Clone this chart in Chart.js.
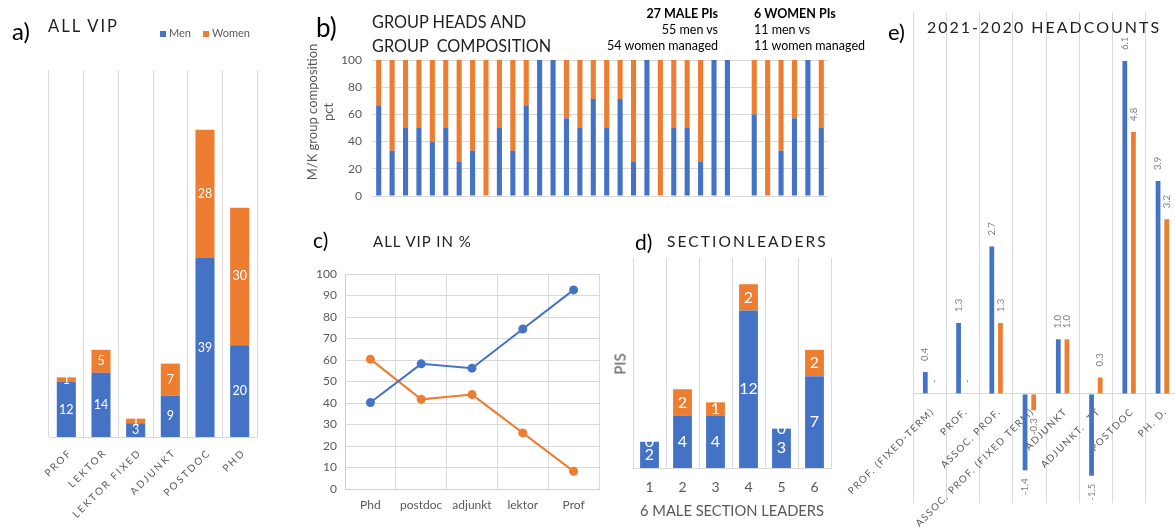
<!DOCTYPE html>
<html><head><meta charset="utf-8">
<script src="https://cdn.jsdelivr.net/npm/chart.js@4.4.0/dist/chart.umd.min.js"></script>
<style>
html,body{margin:0;padding:0;width:1175px;height:527px;overflow:hidden;background:#fff;font-family:Lato,sans-serif;}
canvas{position:absolute;}
.t{position:absolute;white-space:nowrap;line-height:1;color:#222;}
.g{color:#595959;}
.sq{position:absolute;width:6px;height:6px;}
</style></head><body>

<canvas id="ca" width="300" height="527" style="left:0;top:0"></canvas>
<canvas id="cb" width="580" height="220" style="left:300px;top:0"></canvas>
<canvas id="cc" width="320" height="307" style="left:290px;top:220px"></canvas>
<canvas id="cd" width="280" height="307" style="left:600px;top:220px"></canvas>
<canvas id="ce" width="350" height="527" style="left:830px;top:0"></canvas>

<!-- panel a texts -->
<div class="t" style="left:12px;top:18.7px;font-size:24px;color:#000">a)</div>
<div class="t" style="left:48px;top:18.4px;font-size:16.5px;letter-spacing:2px">ALL VIP</div>
<div class="sq" style="left:160px;top:31px;background:#4472C4"></div>
<div class="t g" style="left:169px;top:27.2px;font-size:11px">Men</div>
<div class="sq" style="left:203px;top:31px;background:#ED7D31"></div>
<div class="t g" style="left:212px;top:27.2px;font-size:11px">Women</div>

<!-- panel b texts -->
<div class="t" style="left:316px;top:14px;font-size:26px;color:#000">b)</div>
<div class="t" style="left:372px;top:14.1px;font-size:16.3px">GROUP HEADS AND</div>
<div class="t" style="left:372px;top:37.5px;font-size:16.3px;white-space:pre">GROUP  COMPOSITION</div>
<div class="t" style="right:457px;top:8.2px;font-size:12.5px;font-weight:bold;text-align:right;color:#000">27 MALE PIs</div>
<div class="t" style="right:457px;top:24.4px;font-size:12.5px;text-align:right;color:#000">55 men vs</div>
<div class="t" style="right:457px;top:39.9px;font-size:12.5px;text-align:right;color:#000">54 women managed</div>
<div class="t" style="left:754px;top:8.2px;font-size:12.5px;font-weight:bold;color:#000">6 WOMEN PIs</div>
<div class="t" style="left:754px;top:24.4px;font-size:12.5px;color:#000">11 men vs</div>
<div class="t" style="left:754px;top:39.9px;font-size:12.5px;color:#000">11 women managed</div>
<div class="t g" style="left:320px;top:112px;font-size:13px;line-height:16px;text-align:center;transform:translate(-50%,-50%) rotate(-90deg)">M/K group composition<br>pct</div>

<!-- panel c texts -->
<div class="t" style="left:313px;top:229px;font-size:21px;color:#000">c)</div>
<div class="t" style="left:373px;top:233.7px;font-size:15px;letter-spacing:1px">ALL VIP IN %</div>

<!-- panel d texts -->
<div class="t" style="left:635px;top:231.4px;font-size:21px;color:#000">d)</div>
<div class="t" style="left:667px;top:234.3px;font-size:15.5px;letter-spacing:2.1px">SECTIONLEADERS</div>
<div class="t g" style="left:620px;top:364px;font-size:15px;transform:translate(-50%,-50%) rotate(-90deg)">PIS</div>
<div class="t g" style="left:732px;top:503px;font-size:14.7px;transform:translateX(-50%)">6 MALE SECTION LEADERS</div>

<!-- panel e texts -->
<div class="t" style="left:888px;top:20.5px;font-size:22px;color:#000">e)</div>
<div class="t" style="left:927px;top:18.8px;font-size:16px;letter-spacing:2px">2021-2020 HEADCOUNTS</div>

<script>
// ---------- DATA ----------
const vipCategories = ['PROF', 'LEKTOR', 'LEKTOR FIXED', 'ADJUNKT', 'POSTDOC', 'PHD'];
const vipMen = [12, 14, 3, 9, 39, 20];
const vipWomen = [1, 5, 1, 7, 28, 30];

const groupLabels = ['M1','M2','M3','M4','M5','M6','M7','M8','M9','M10','M11','M12','M13','M14','M15','M16','M17','M18','M19','M20','M21','M22','M23','M24','M25','M26','M27','','W1','W2','W3','W4','W5','W6'];
const groupMenPct = [66.7,33.3,50,50,40,50,25,33.3,0,50,33.3,66.7,100,100,57.1,50,71.4,50,71.4,25,100,0,50,50,25,100,100,null,60,0,33.3,57.1,100,50];
const groupWomenPct = [33.3,66.7,50,50,60,50,75,66.7,100,50,66.7,33.3,0,0,42.9,50,28.6,50,28.6,75,0,100,50,50,75,0,0,null,40,100,66.7,42.9,0,50];
const groupPctTicks = [0, 20, 40, 60, 80, 100];

const pctCategories = ['Phd', 'postdoc', 'adjunkt', 'lektor', 'Prof'];
const pctMen = [40.2, 58.2, 56.2, 74.4, 92.6];
const pctWomen = [60.4, 41.7, 43.9, 26.1, 8.2];

const sectionLabels = ['1', '2', '3', '4', '5', '6'];
const sectionMen = [2, 4, 4, 12, 3, 7];
const sectionWomen = [0, 2, 1, 2, 0, 2];

const headCategories = ['PROF. (FIXED-TERM)', 'PROF.', 'ASSOC. PROF.', 'ASSOC. PROF. (FIXED TERM)', 'ADJUNKT', 'ADJUNKT.  TT', 'POSTDOC', 'PH. D.'];
const headMen = [0.4, 1.3, 2.7, -1.4, 1.0, -1.5, 6.1, 3.9];
const headWomen = [0, 0, 1.3, -0.3, 1.0, 0.3, 4.8, 3.2];

// ---------- STYLE ----------
const BLUE = '#4472C4', ORANGE = '#ED7D31', GRAY = '#595959', GRID = '#d9d9d9';
Chart.defaults.font.family = 'Lato';

const base = {
  responsive: false, animation: false, devicePixelRatio: 1,
  plugins: { legend: { display: false }, tooltip: { enabled: false } }
};

function stackLabels(size) {
  return { id: 'stackLabels', afterDatasetsDraw(chart) {
    const ctx = chart.ctx; ctx.save();
    ctx.fillStyle = '#fff'; ctx.font = size + 'px Lato';
    ctx.textAlign = 'center'; ctx.textBaseline = 'middle';
    chart.data.datasets.forEach((ds, di) => {
      chart.getDatasetMeta(di).data.forEach((el, i) => {
        const v = ds.data[i]; if (v == null) return;
        ctx.fillText(String(v), el.x, (el.y + el.base) / 2);
      });
    });
    ctx.restore();
  }};
}

function diagLabels(o) {
  const hook = o.before ? 'beforeDatasetsDraw' : 'afterDatasetsDraw';
  return { id: 'diag', [hook](chart) {
    const ctx = chart.ctx, xs = chart.scales.x;
    const y0 = o.zero ? chart.scales.y.getPixelForValue(0) : chart.chartArea.bottom;
    ctx.save();
    ctx.font = o.size + 'px Lato'; ctx.fillStyle = GRAY;
    ctx.letterSpacing = o.ls + 'px';
    ctx.textAlign = 'right'; ctx.textBaseline = 'middle';
    chart.data.labels.forEach((lab, i) => {
      const x = xs.getPixelForValue(i);
      ctx.save(); ctx.translate(x + o.dx, y0 + o.dy); ctx.rotate(-Math.PI / 4);
      ctx.fillText(lab, 0, 0); ctx.restore();
    });
    ctx.restore();
  }};
}

// ---------- a) ALL VIP ----------
new Chart(document.getElementById('ca'), {
  type: 'bar',
  data: { labels: vipCategories, datasets: [
    { label: 'Men', data: vipMen, backgroundColor: BLUE, barPercentage: 0.55, categoryPercentage: 1 },
    { label: 'Women', data: vipWomen, backgroundColor: ORANGE, barPercentage: 0.55, categoryPercentage: 1 }
  ]},
  options: { ...base,
    layout: { padding: { left: 49, right: 43, top: 70, bottom: 90 } },
    scales: {
      x: { stacked: true, ticks: { display: false }, grid: { color: GRID, drawTicks: false, offset: true }, border: { color: GRID } },
      y: { stacked: true, display: false, min: 0, max: 80 }
    }
  },
  plugins: [stackLabels(12.5), diagLabels({ size: 10, ls: 2, dx: 4, dy: 14 })]
});

// ---------- b) GROUP HEADS ----------
new Chart(document.getElementById('cb'), {
  type: 'bar',
  data: { labels: groupLabels, datasets: [
    { label: 'Men', data: groupMenPct, backgroundColor: BLUE, barPercentage: 0.38, categoryPercentage: 1 },
    { label: 'Women', data: groupWomenPct, backgroundColor: ORANGE, barPercentage: 0.38, categoryPercentage: 1 }
  ]},
  options: { ...base,
    layout: { padding: { left: 0, right: 52, top: 60, bottom: 16 } },
    scales: {
      x: { stacked: true, ticks: { display: false }, grid: { display: false }, border: { display: false } },
      y: { stacked: true, min: 0, max: 100,
        afterBuildTicks(s) { s.ticks = groupPctTicks.map(v => ({ value: v })); },
        afterFit(s) { s.width = 72; },
        ticks: { color: GRAY, font: { size: 12 }, padding: 10 },
        grid: { color: GRID, drawTicks: false }, border: { display: false } }
    }
  }
});

// ---------- c) ALL VIP IN % ----------
new Chart(document.getElementById('cc'), {
  type: 'line',
  data: { labels: pctCategories, datasets: [
    { label: 'Men', data: pctMen, borderColor: BLUE, backgroundColor: BLUE, borderWidth: 2, pointRadius: 4.5, pointBorderWidth: 0, tension: 0 },
    { label: 'Women', data: pctWomen, borderColor: ORANGE, backgroundColor: ORANGE, borderWidth: 2, pointRadius: 4.5, pointBorderWidth: 0, tension: 0 }
  ]},
  options: { ...base,
    layout: { padding: { left: 0, right: 11, top: 54, bottom: 0 } },
    scales: {
      x: { offset: true, afterFit(s) { s.height = 38; },
        ticks: { color: GRAY, font: { size: 12 }, padding: 9 },
        grid: { color: GRID, drawTicks: false, offset: true }, border: { color: '#cfcfcf' } },
      y: { min: 0, max: 100, afterFit(s) { s.width = 55; },
        ticks: { stepSize: 10, color: GRAY, font: { size: 12 }, padding: 8 },
        grid: { color: GRID, drawTicks: false }, border: { color: '#cfcfcf' } }
    }
  }
});

// ---------- d) SECTION LEADERS ----------
new Chart(document.getElementById('cd'), {
  type: 'bar',
  data: { labels: sectionLabels, datasets: [
    { label: 'Men', data: sectionMen, backgroundColor: BLUE, barPercentage: 0.57, categoryPercentage: 1 },
    { label: 'Women', data: sectionWomen, backgroundColor: ORANGE, barPercentage: 0.57, categoryPercentage: 1 }
  ]},
  options: { ...base,
    layout: { padding: { left: 33, right: 49, top: 38, bottom: 0 } },
    scales: {
      x: { stacked: true, afterFit(s) { s.height = 59; },
        ticks: { color: GRAY, font: { size: 14 }, padding: 11.5 },
        grid: { color: GRID, drawTicks: false, offset: true }, border: { color: GRID } },
      y: { stacked: true, display: false, min: 0, max: 16 }
    }
  },
  plugins: [stackLabels(16)]
});

// ---------- e) HEADCOUNTS ----------
const headValueLabels = { id: 'hv', afterDatasetsDraw(chart) {
  const ctx = chart.ctx; ctx.save();
  ctx.font = '9.5px Lato'; ctx.fillStyle = '#7f7f7f'; ctx.textBaseline = 'middle';
  chart.data.datasets.forEach((ds, di) => {
    chart.getDatasetMeta(di).data.forEach((el, i) => {
      const v = ds.data[i];
      const txt = v === 0 ? '-' : v.toFixed(1);
      ctx.save();
      if (v < 0) { ctx.translate(el.x, el.y + 8); ctx.rotate(-Math.PI / 2); ctx.textAlign = 'right'; }
      else { ctx.translate(el.x, el.y - 11); ctx.rotate(-Math.PI / 2); ctx.textAlign = 'left'; }
      ctx.fillText(txt, 0, 0);
      ctx.restore();
    });
  });
  ctx.restore();
}};

new Chart(document.getElementById('ce'), {
  type: 'bar',
  data: { labels: headCategories, datasets: [
    { label: 'Men', data: headMen, backgroundColor: BLUE, barPercentage: 0.55, categoryPercentage: 0.52 },
    { label: 'Women', data: headWomen, backgroundColor: ORANGE, barPercentage: 0.55, categoryPercentage: 0.52 }
  ]},
  options: { ...base,
    layout: { padding: { left: 83, right: 1, top: 12, bottom: 24 } },
    scales: {
      x: { ticks: { display: false }, grid: { color: GRID, drawTicks: false, offset: true }, border: { display: false } },
      y: { min: -2, max: 7, ticks: { display: false, stepSize: 1 },
        grid: { drawTicks: false, color: c => (c.tick && c.tick.value === 0) ? GRID : 'rgba(0,0,0,0)' },
        border: { display: false } }
    }
  },
  plugins: [diagLabels({ size: 9.8, ls: 1.4, dx: 3, dy: 16, zero: true, before: true }), headValueLabels]
});
</script>
</body></html>
